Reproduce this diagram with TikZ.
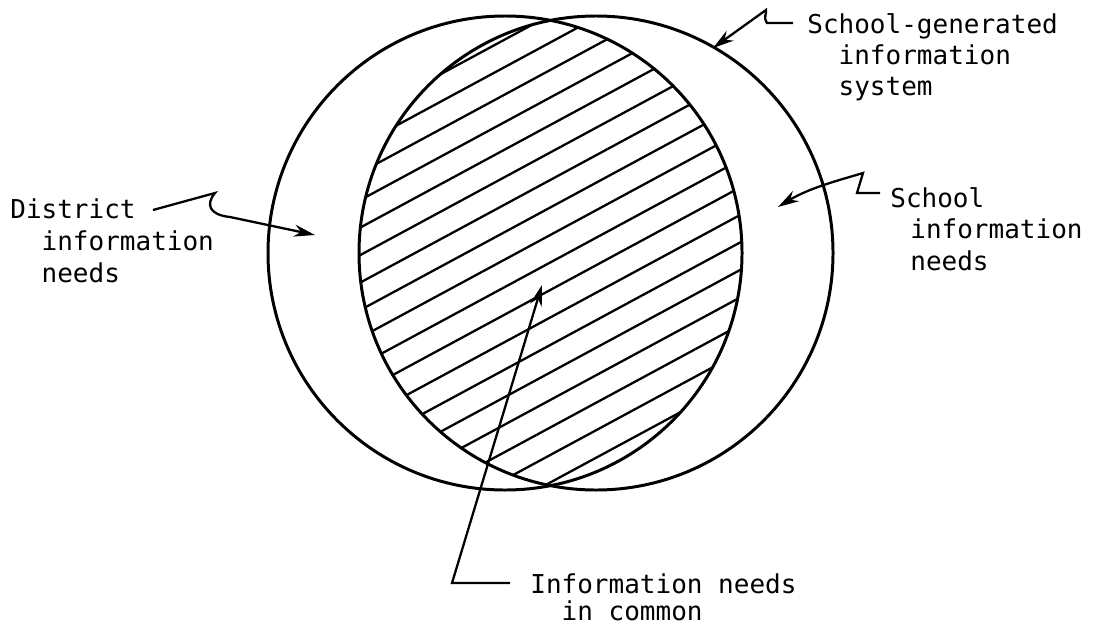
\documentclass[tikz,border=0pt]{standalone}
\usepackage{fontspec}
\setmainfont{DejaVu Sans Mono}
\usetikzlibrary{arrows.meta,calc}

\begin{document}
\begin{tikzpicture}[>={Stealth[length=0.42cm,width=0.24cm]},
  note/.style={font=\fontsize{14.8}{17.6}\selectfont, align=left, inner sep=0pt, anchor=north west},
  leader/.style={->, line width=1.3pt},
  ring/.style={line width=1.7pt},
  hatch/.style={line width=1.3pt}]
\useasboundingbox (0,0) rectangle (22.06,12.6);
\coordinate (cl) at (10.10,7.54);
\coordinate (cr) at (11.92,7.54);
% the two systems
\draw[ring] (cl) circle (4.74);
\draw[ring] (cr) circle (4.74);
% shared needs
\begin{scope}
\clip (cl) circle (4.74);
\clip (cr) circle (4.74);
\foreach \k in {0,...,22}
  \draw[hatch] (4.06,{-0.80+0.55*\k}) -- (18.06,{6.76+0.55*\k});
\end{scope}

\node[note] (sg) at (16.14,12.335) {School-generated\\\phantom{Sc}information\\\phantom{Sc}system};
\node[note] (dist) at (0.20,8.635) {District\\[0.8pt]\phantom{Sc}information\\[0.4pt]\phantom{Sc}needs};
\node[note] (sch) at (17.80,8.855) {School\\\hspace*{0.4cm}information\\[0.6pt]\hspace*{0.4cm}needs};
\node[note] (com) at (10.60,1.135) {Information needs\\[-2pt]\phantom{Sc}in common};

\coordinate (sgtip) at (14.26,11.64);
\coordinate (disttip) at (6.30,7.90);
\coordinate (schtip) at (15.56,8.46);
\coordinate (comtip) at (10.84,6.90);

\draw[leader] ([shift={(-0.28,-0.195)}]sg.north west) -- ++(-0.52,0)
  .. controls +(-0.08,0.12) and +(0.02,-0.06) .. ++(-0.02,0.26) -- (sgtip);
\draw[leader] ([shift={(2.86,-0.235)}]dist.north west) -- (4.30,8.74)
  .. controls (4.10,8.50) and (4.20,8.30) .. (4.60,8.26) -- (disttip);
\draw[leader] ([shift={(-0.20,-0.115)}]sch.north west) -- (17.14,8.74)
  -- (17.26,9.14) .. controls (16.80,9.00) and (16.20,8.85) .. (schtip);
\draw[leader] ([shift={(-0.40,-0.195)}]com.north west) -- (9.04,0.94) -- (comtip);
\end{tikzpicture}
\end{document}
